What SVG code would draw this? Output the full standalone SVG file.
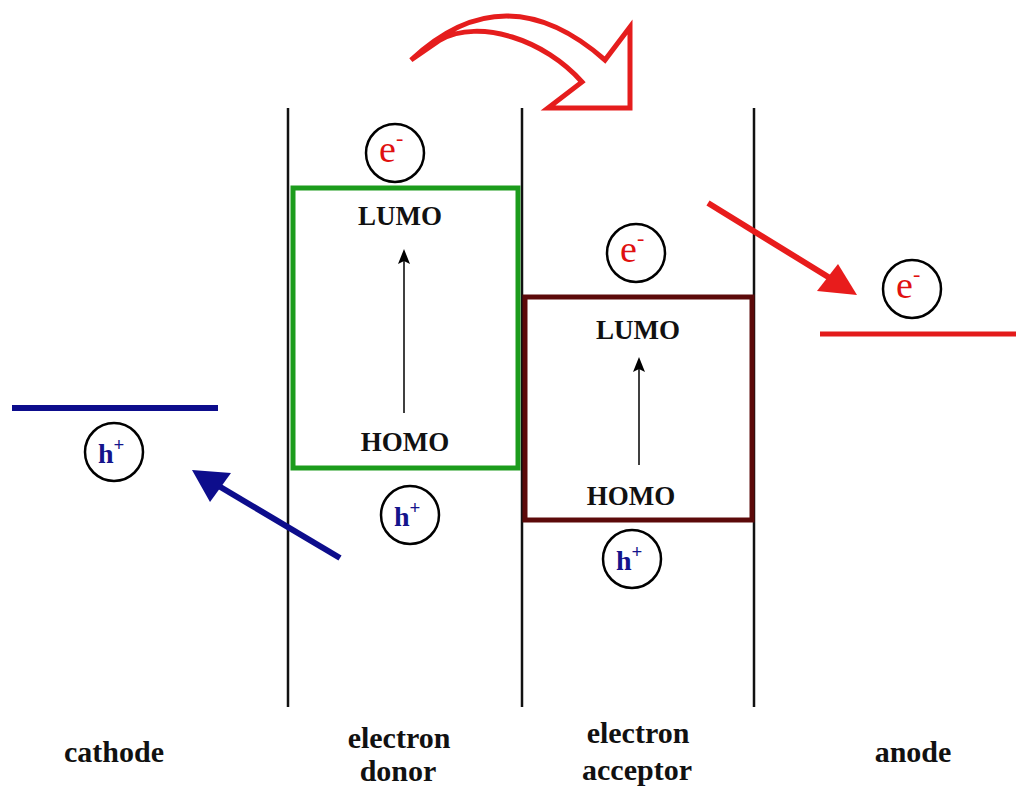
<svg xmlns="http://www.w3.org/2000/svg" width="1016" height="791" viewBox="0 0 1016 791">
<style>
.lbl{font-family:"Liberation Serif","Times New Roman",serif;font-weight:bold;font-size:30px;fill:#111;text-anchor:middle}
.lvl{font-family:"Liberation Serif","Times New Roman",serif;font-weight:bold;font-size:27px;fill:#111;text-anchor:middle}
.sep{stroke:#111;stroke-width:2.5;fill:none}
.circ{fill:#fff;stroke:#000;stroke-width:2.5}
.e{font-family:"Liberation Serif","Times New Roman",serif;font-size:38px;fill:#e01010}
.esup{font-family:"Liberation Serif","Times New Roman",serif;font-size:22px;fill:#e01010}
.h{font-family:"Liberation Serif","Times New Roman",serif;font-weight:bold;font-size:28px;fill:#14148c}
.hsup{font-family:"Liberation Serif","Times New Roman",serif;font-size:19px;fill:#14148c}
.thin{stroke:#000;stroke-width:1.5;fill:none}
</style>
<rect width="1016" height="791" fill="#fff"/>

<g id="separators">
<line class="sep" x1="288" y1="108" x2="288" y2="707"/>
<line class="sep" x1="522" y1="108" x2="522" y2="707"/>
<line class="sep" x1="754" y1="108" x2="754" y2="707"/>
</g>

<g id="cathode">
<line x1="12" y1="408" x2="218" y2="408" stroke="#0d0d8c" stroke-width="6"/>
<text class="lbl" x="114" y="762">cathode</text>
</g>

<g id="donor">
<rect x="293" y="188" width="225" height="280" fill="none" stroke="#1c9c1c" stroke-width="5"/>
<text class="lvl" x="400" y="225">LUMO</text>
<text class="lvl" x="405" y="451">HOMO</text>
<text class="lbl" x="399" y="748">electron</text>
<text class="lbl" x="398" y="781">donor</text>
</g>

<g id="acceptor">
<rect x="525" y="297" width="227" height="223" fill="none" stroke="#5c0a0a" stroke-width="5"/>
<text class="lvl" x="638" y="339">LUMO</text>
<text class="lvl" x="631" y="505">HOMO</text>
<text class="lbl" x="638" y="743">electron</text>
<text class="lbl" x="637" y="780">acceptor</text>
</g>

<g id="anode">
<line x1="820" y1="334" x2="1016" y2="334" stroke="#e31b1b" stroke-width="5"/>
<text class="lbl" x="913" y="762">anode</text>
</g>

<g id="e-donor">
<circle class="circ" cx="395" cy="153" r="29"/>
<text class="e" x="379" y="162">e<tspan class="esup" dy="-17">-</tspan></text>
</g>
<g id="e-acceptor">
<circle class="circ" cx="636" cy="253" r="29"/>
<text class="e" x="620" y="262">e<tspan class="esup" dy="-17">-</tspan></text>
</g>
<g id="e-anode">
<circle class="circ" cx="912" cy="289" r="29"/>
<text class="e" x="896" y="298">e<tspan class="esup" dy="-17">-</tspan></text>
</g>
<g id="h-cathode">
<circle class="circ" cx="114" cy="452" r="29"/>
<text class="h" x="98" y="463">h<tspan class="hsup" dy="-12">+</tspan></text>
</g>
<g id="h-donor">
<circle class="circ" cx="410" cy="515" r="29"/>
<text class="h" x="394" y="526">h<tspan class="hsup" dy="-12">+</tspan></text>
</g>
<g id="h-acceptor">
<circle class="circ" cx="632" cy="559" r="29"/>
<text class="h" x="616" y="570">h<tspan class="hsup" dy="-12">+</tspan></text>
</g>

<g id="connectors">
<path d="M 411 60 Q 505 -28 605 60 L 630 27 L 630 108 L 548 108 L 582 82 C 545 40 480 18 440 40 Z" fill="#fff" stroke="#e51d1d" stroke-width="5" stroke-linejoin="miter"/>
<line x1="340" y1="558" x2="212" y2="482" stroke="#0d0d8c" stroke-width="6"/>
<polygon points="192,470 231,473 210,502" fill="#0d0d8c"/>
<line x1="708" y1="203" x2="838" y2="283" stroke="#e81c1c" stroke-width="6"/>
<polygon points="857,295 838,264 817,291" fill="#e81c1c"/>
<line class="thin" x1="404" y1="413" x2="404" y2="258"/>
<polygon points="404,249 398,264 404,261 410,264" fill="#000"/>
<line class="thin" x1="639" y1="465" x2="639" y2="366"/>
<polygon points="639,357 633,372 639,369 645,372" fill="#000"/>
</g>
</svg>
